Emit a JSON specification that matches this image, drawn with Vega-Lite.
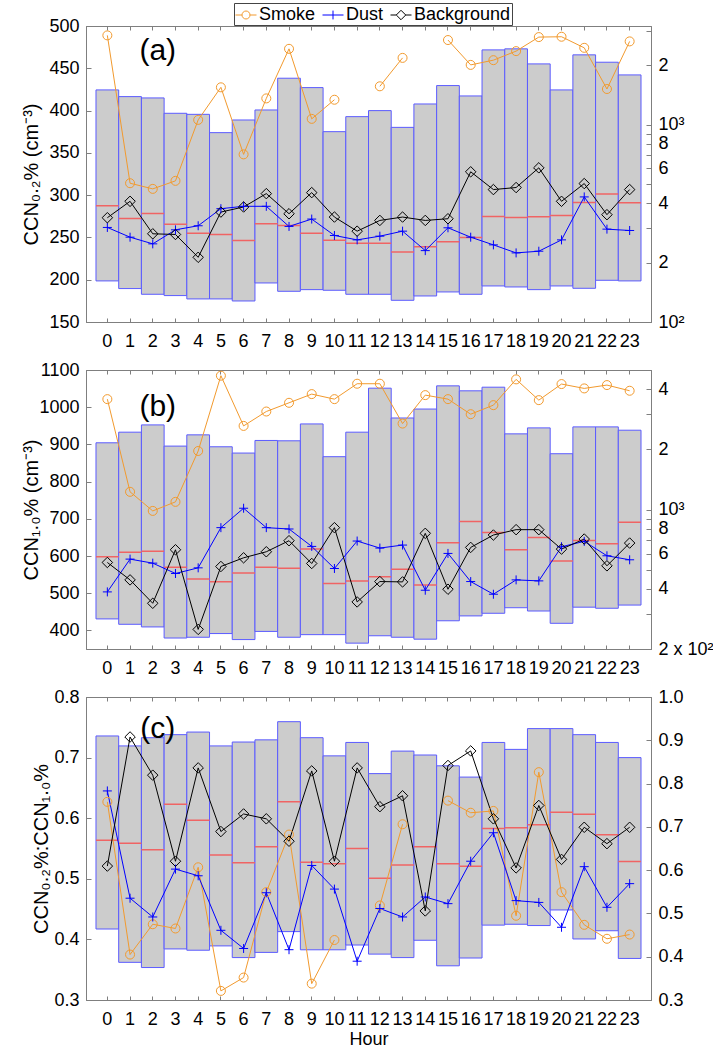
{
"$schema": "https://vega.github.io/schema/vega-lite/v6.json",
"padding": {"left": 20, "top": 2, "right": 2, "bottom": 0},
"spacing": 48,
"bounds": "flush",
"datasets": {
"a_box": [
{"hour":0,"low":161.5,"high":1500,"median":388},{"hour":1,"low":147.7,"high":1387,"median":334.5},{"hour":2,"low":138.2,"high":1366,"median":354.8},{"hour":3,"low":136.1,"high":1142,"median":313.2},{"hour":4,"low":130.9,"high":1128,"median":281.8},{"hour":5,"low":130.9,"high":911,"median":277.5},{"hour":6,"low":127.8,"high":1056,"median":258.8},{"hour":7,"low":157.7,"high":1187,"median":314.4},{"hour":8,"low":143.1,"high":1719,"median":308.3},{"hour":9,"low":145.9,"high":1541,"median":281.8},{"hour":10,"low":144.8,"high":921.5,"median":259.8},{"hour":11,"low":138.2,"high":1098,"median":250.8},{"hour":12,"low":138.2,"high":1178,"median":250.8},{"hour":13,"low":128.8,"high":969,"median":226.6},{"hour":14,"low":135.5,"high":1273,"median":240.3},{"hour":15,"low":142,"high":1578,"median":254.8},{"hour":16,"low":138.2,"high":1398,"median":268},{"hour":17,"low":152.3,"high":2393,"median":342.5},{"hour":18,"low":150.5,"high":2422,"median":338.5},{"hour":19,"low":145.9,"high":2032,"median":341.2},{"hour":20,"low":152.3,"high":1500,"median":346.6},{"hour":21,"low":148.2,"high":2258,"median":403.5},{"hour":22,"low":162.7,"high":2072,"median":444.7},{"hour":23,"low":161.5,"high":1787,"median":401.8}
],
"a_lines": [
{"hour":0,"series":"Smoke","value":488.9},{"hour":1,"series":"Smoke","value":314.1},{"hour":2,"series":"Smoke","value":307.4},{"hour":3,"series":"Smoke","value":316.9},{"hour":4,"series":"Smoke","value":389},{"hour":5,"series":"Smoke","value":427.5},{"hour":6,"series":"Smoke","value":348.2},{"hour":7,"series":"Smoke","value":414.4},{"hour":8,"series":"Smoke","value":473},{"hour":9,"series":"Smoke","value":390.2},{"hour":10,"series":"Smoke","value":412.8},{"hour":11,"series":"Smoke","value":null},{"hour":12,"series":"Smoke","value":428.7},{"hour":13,"series":"Smoke","value":462.3},{"hour":14,"series":"Smoke","value":null},{"hour":15,"series":"Smoke","value":483.4},{"hour":16,"series":"Smoke","value":454},{"hour":17,"series":"Smoke","value":459.6},{"hour":18,"series":"Smoke","value":470.3},{"hour":19,"series":"Smoke","value":486.9},{"hour":20,"series":"Smoke","value":487.3},{"hour":21,"series":"Smoke","value":474.2},{"hour":22,"series":"Smoke","value":425.5},{"hour":23,"series":"Smoke","value":481.8},
{"hour":0,"series":"Dust","value":261.8},{"hour":1,"series":"Dust","value":250.3},{"hour":2,"series":"Dust","value":242.4},{"hour":3,"series":"Dust","value":259},{"hour":4,"series":"Dust","value":263.8},{"hour":5,"series":"Dust","value":284},{"hour":6,"series":"Dust","value":286.8},{"hour":7,"series":"Dust","value":286.8},{"hour":8,"series":"Dust","value":263},{"hour":9,"series":"Dust","value":271.7},{"hour":10,"series":"Dust","value":252.3},{"hour":11,"series":"Dust","value":247.1},{"hour":12,"series":"Dust","value":251.5},{"hour":13,"series":"Dust","value":257.4},{"hour":14,"series":"Dust","value":234.4},{"hour":15,"series":"Dust","value":261.4},{"hour":16,"series":"Dust","value":250.3},{"hour":17,"series":"Dust","value":241.2},{"hour":18,"series":"Dust","value":231.7},{"hour":19,"series":"Dust","value":233.7},{"hour":20,"series":"Dust","value":247.1},{"hour":21,"series":"Dust","value":297.9},{"hour":22,"series":"Dust","value":259.8},{"hour":23,"series":"Dust","value":258.2},
{"hour":0,"series":"Background","value":273.3},{"hour":1,"series":"Background","value":292.7},{"hour":2,"series":"Background","value":254.3},{"hour":3,"series":"Background","value":253.5},{"hour":4,"series":"Background","value":226.5},{"hour":5,"series":"Background","value":280},{"hour":6,"series":"Background","value":286},{"hour":7,"series":"Background","value":301.8},{"hour":8,"series":"Background","value":278},{"hour":9,"series":"Background","value":303},{"hour":10,"series":"Background","value":274.1},{"hour":11,"series":"Background","value":257.4},{"hour":12,"series":"Background","value":270.1},{"hour":13,"series":"Background","value":274.1},{"hour":14,"series":"Background","value":270.1},{"hour":15,"series":"Background","value":272.1},{"hour":16,"series":"Background","value":327.6},{"hour":17,"series":"Background","value":306.6},{"hour":18,"series":"Background","value":309},{"hour":19,"series":"Background","value":332.3},{"hour":20,"series":"Background","value":292.7},{"hour":21,"series":"Background","value":313.7},{"hour":22,"series":"Background","value":276.9},{"hour":23,"series":"Background","value":306.6}
],
"b_box": [
{"hour":0,"low":283,"high":2159,"median":580},{"hour":1,"low":266,"high":2440,"median":610},{"hour":2,"low":258,"high":2654,"median":617},{"hour":3,"low":227,"high":2078,"median":514},{"hour":4,"low":229,"high":2366,"median":448},{"hour":5,"low":239,"high":2062,"median":434},{"hour":6,"low":223,"high":1918,"median":481},{"hour":7,"low":245,"high":2218,"median":514},{"hour":8,"low":229,"high":2209,"median":508},{"hour":9,"low":236,"high":2684,"median":634},{"hour":10,"low":236,"high":1839,"median":426},{"hour":11,"low":214,"high":2440,"median":438},{"hour":12,"low":233,"high":4054,"median":460},{"hour":13,"low":229,"high":2874,"median":502},{"hour":14,"low":224,"high":3187,"median":418},{"hour":15,"low":277,"high":4164,"median":681},{"hour":16,"low":293,"high":3932,"median":870},{"hour":17,"low":302,"high":4100,"median":767},{"hour":18,"low":322,"high":2393,"median":629},{"hour":19,"low":310,"high":2564,"median":724},{"hour":20,"low":269,"high":1903,"median":552},{"hour":21,"low":324,"high":2594,"median":700},{"hour":22,"low":320,"high":2594,"median":674},{"hour":23,"low":332,"high":2496,"median":863}
],
"b_lines": [
{"hour":0,"series":"Smoke","value":1021.7},{"hour":1,"series":"Smoke","value":772.5},{"hour":2,"series":"Smoke","value":721.2},{"hour":3,"series":"Smoke","value":745.5},{"hour":4,"series":"Smoke","value":882.3},{"hour":5,"series":"Smoke","value":1084.7},{"hour":6,"series":"Smoke","value":949.7},{"hour":7,"series":"Smoke","value":988.4},{"hour":8,"series":"Smoke","value":1011.8},{"hour":9,"series":"Smoke","value":1035.2},{"hour":10,"series":"Smoke","value":1021.7},{"hour":11,"series":"Smoke","value":1063.1},{"hour":12,"series":"Smoke","value":1063.1},{"hour":13,"series":"Smoke","value":956},{"hour":14,"series":"Smoke","value":1032.5},{"hour":15,"series":"Smoke","value":1021.7},{"hour":16,"series":"Smoke","value":981.2},{"hour":17,"series":"Smoke","value":1005.5},{"hour":18,"series":"Smoke","value":1074.8},{"hour":19,"series":"Smoke","value":1019},{"hour":20,"series":"Smoke","value":1062.2},{"hour":21,"series":"Smoke","value":1050.5},{"hour":22,"series":"Smoke","value":1059.5},{"hour":23,"series":"Smoke","value":1044.2},
{"hour":0,"series":"Dust","value":503.5},{"hour":1,"series":"Dust","value":591.6},{"hour":2,"series":"Dust","value":580.8},{"hour":3,"series":"Dust","value":553},{"hour":4,"series":"Dust","value":568.2},{"hour":5,"series":"Dust","value":676.2},{"hour":6,"series":"Dust","value":728.4},{"hour":7,"series":"Dust","value":676.2},{"hour":8,"series":"Dust","value":672.6},{"hour":9,"series":"Dust","value":625.8},{"hour":10,"series":"Dust","value":566.4},{"hour":11,"series":"Dust","value":640.2},{"hour":12,"series":"Dust","value":621.3},{"hour":13,"series":"Dust","value":629.4},{"hour":14,"series":"Dust","value":508},{"hour":15,"series":"Dust","value":606.9},{"hour":16,"series":"Dust","value":531.3},{"hour":17,"series":"Dust","value":497.2},{"hour":18,"series":"Dust","value":535.8},{"hour":19,"series":"Dust","value":533.1},{"hour":20,"series":"Dust","value":624.9},{"hour":21,"series":"Dust","value":639.3},{"hour":22,"series":"Dust","value":600.6},{"hour":23,"series":"Dust","value":589.8},
{"hour":0,"series":"Background","value":582.6},{"hour":1,"series":"Background","value":535.8},{"hour":2,"series":"Background","value":472.9},{"hour":3,"series":"Background","value":616.8},{"hour":4,"series":"Background","value":402.7},{"hour":5,"series":"Background","value":571.8},{"hour":6,"series":"Background","value":595.2},{"hour":7,"series":"Background","value":611.4},{"hour":8,"series":"Background","value":641.1},{"hour":9,"series":"Background","value":579.9},{"hour":10,"series":"Background","value":676.2},{"hour":11,"series":"Background","value":476.5},{"hour":12,"series":"Background","value":531.3},{"hour":13,"series":"Background","value":530.4},{"hour":14,"series":"Background","value":660.9},{"hour":15,"series":"Background","value":510.7},{"hour":16,"series":"Background","value":623.1},{"hour":17,"series":"Background","value":656.4},{"hour":18,"series":"Background","value":670.8},{"hour":19,"series":"Background","value":670.8},{"hour":20,"series":"Background","value":618.6},{"hour":21,"series":"Background","value":645.6},{"hour":22,"series":"Background","value":573.6},{"hour":23,"series":"Background","value":634.8}
],
"c_box": [
{"hour":0,"low":0.464,"high":0.910,"median":0.669},{"hour":1,"low":0.387,"high":0.887,"median":0.662},{"hour":2,"low":0.375,"high":0.906,"median":0.647},{"hour":3,"low":0.418,"high":0.913,"median":0.752},{"hour":4,"low":0.415,"high":0.919,"median":0.715},{"hour":5,"low":0.425,"high":0.887,"median":0.635},{"hour":6,"low":0.398,"high":0.896,"median":0.617},{"hour":7,"low":0.410,"high":0.901,"median":0.654},{"hour":8,"low":0.458,"high":0.943,"median":0.758},{"hour":9,"low":0.416,"high":0.906,"median":0.618},{"hour":10,"low":0.416,"high":0.864,"median":0.615},{"hour":11,"low":0.427,"high":0.895,"median":0.650},{"hour":12,"low":0.406,"high":0.823,"median":0.581},{"hour":13,"low":0.398,"high":0.875,"median":0.612},{"hour":14,"low":0.438,"high":0.866,"median":0.654},{"hour":15,"low":0.379,"high":0.841,"median":0.615},{"hour":16,"low":0.397,"high":0.815,"median":0.609},{"hour":17,"low":0.473,"high":0.895,"median":0.696},{"hour":18,"low":0.475,"high":0.879,"median":0.698},{"hour":19,"low":0.472,"high":0.927,"median":0.705},{"hour":20,"low":0.508,"high":0.927,"median":0.734},{"hour":21,"low":0.441,"high":0.913,"median":0.729},{"hour":22,"low":0.460,"high":0.895,"median":0.682},{"hour":23,"low":0.396,"high":0.860,"median":0.620}
],
"c_lines": [
{"hour":0,"series":"Smoke","value":0.627},{"hour":1,"series":"Smoke","value":0.375},{"hour":2,"series":"Smoke","value":0.425},{"hour":3,"series":"Smoke","value":0.418},{"hour":4,"series":"Smoke","value":0.519},{"hour":5,"series":"Smoke","value":0.315},{"hour":6,"series":"Smoke","value":0.337},{"hour":7,"series":"Smoke","value":0.478},{"hour":8,"series":"Smoke","value":0.573},{"hour":9,"series":"Smoke","value":0.327},{"hour":10,"series":"Smoke","value":0.399},{"hour":11,"series":"Smoke","value":null},{"hour":12,"series":"Smoke","value":0.456},{"hour":13,"series":"Smoke","value":0.590},{"hour":14,"series":"Smoke","value":null},{"hour":15,"series":"Smoke","value":0.629},{"hour":16,"series":"Smoke","value":0.609},{"hour":17,"series":"Smoke","value":0.612},{"hour":18,"series":"Smoke","value":0.439},{"hour":19,"series":"Smoke","value":0.676},{"hour":20,"series":"Smoke","value":0.478},{"hour":21,"series":"Smoke","value":0.424},{"hour":22,"series":"Smoke","value":0.401},{"hour":23,"series":"Smoke","value":0.408},
{"hour":0,"series":"Dust","value":0.645},{"hour":1,"series":"Dust","value":0.468},{"hour":2,"series":"Dust","value":0.437},{"hour":3,"series":"Dust","value":0.516},{"hour":4,"series":"Dust","value":0.505},{"hour":5,"series":"Dust","value":0.415},{"hour":6,"series":"Dust","value":0.385},{"hour":7,"series":"Dust","value":0.477},{"hour":8,"series":"Dust","value":0.383},{"hour":9,"series":"Dust","value":0.522},{"hour":10,"series":"Dust","value":0.483},{"hour":11,"series":"Dust","value":0.364},{"hour":12,"series":"Dust","value":0.451},{"hour":13,"series":"Dust","value":0.437},{"hour":14,"series":"Dust","value":0.470},{"hour":15,"series":"Dust","value":0.459},{"hour":16,"series":"Dust","value":0.529},{"hour":17,"series":"Dust","value":0.576},{"hour":18,"series":"Dust","value":0.464},{"hour":19,"series":"Dust","value":0.461},{"hour":20,"series":"Dust","value":0.420},{"hour":21,"series":"Dust","value":0.520},{"hour":22,"series":"Dust","value":0.453},{"hour":23,"series":"Dust","value":0.492},
{"hour":0,"series":"Background","value":0.521},{"hour":1,"series":"Background","value":0.734},{"hour":2,"series":"Background","value":0.671},{"hour":3,"series":"Background","value":0.529},{"hour":4,"series":"Background","value":0.683},{"hour":5,"series":"Background","value":0.578},{"hour":6,"series":"Background","value":0.607},{"hour":7,"series":"Background","value":0.599},{"hour":8,"series":"Background","value":0.562},{"hour":9,"series":"Background","value":0.678},{"hour":10,"series":"Background","value":0.529},{"hour":11,"series":"Background","value":0.683},{"hour":12,"series":"Background","value":0.619},{"hour":13,"series":"Background","value":0.637},{"hour":14,"series":"Background","value":0.447},{"hour":15,"series":"Background","value":0.687},{"hour":16,"series":"Background","value":0.711},{"hour":17,"series":"Background","value":0.599},{"hour":18,"series":"Background","value":0.518},{"hour":19,"series":"Background","value":0.621},{"hour":20,"series":"Background","value":0.532},{"hour":21,"series":"Background","value":0.585},{"hour":22,"series":"Background","value":0.558},{"hour":23,"series":"Background","value":0.585}
],
"legend_rows": [
{"series":"Smoke","value":null},{"series":"Dust","value":null},{"series":"Background","value":null}
]
},
"vconcat": [
{
"width": 565, "height": 296,
"resolve": {"scale": {"y": "independent"}, "axis": {"y": "independent", "x": "independent"}},
"layer": [
{
"data": {"name": "a_box"},
"encoding": {"x": {"field": "hour", "type": "ordinal", "scale": {"type": "band", "domain": [0,1,2,3,4,5,6,7,8,9,10,11,12,13,14,15,16,17,18,19,20,21,22,23], "paddingInner": 0, "paddingOuter": 0.44}, "axis": {"orient": "top", "labels": false, "title": null, "tickSize": -4}}},
"layer": [
{"mark": {"type": "bar", "fill": "#cccccc", "stroke": "#5b5bff", "strokeWidth": 1},
 "encoding": {"y": {"field": "low", "type": "quantitative", "scale": {"type": "log", "domain": [100, 3162], "nice": false}, "axis": {"orient": "right", "title": null, "tickSize": -5, "labelPadding": 12, "values": [100,200,300,400,500,600,700,800,900,1000,2000,3000], "labelExpr": "datum.value == 100 ? '10²' : datum.value == 1000 ? '10³' : datum.value == 2000 ? '2' : (datum.value == 200 || datum.value == 400 || datum.value == 600 || datum.value == 800) ? '' + (datum.value / 100) : ''"}}, "y2": {"field": "high"}}},
{"mark": {"type": "bar", "filled": false, "color": "#f06464", "strokeWidth": 1.5},
 "encoding": {"y": {"field": "median", "type": "quantitative", "axis": {"orient": "right", "title": null, "tickSize": -5, "labelPadding": 12, "values": [100,200,300,400,500,600,700,800,900,1000,2000,3000], "labelExpr": "datum.value == 100 ? '10²' : datum.value == 1000 ? '10³' : datum.value == 2000 ? '2' : (datum.value == 200 || datum.value == 400 || datum.value == 600 || datum.value == 800) ? '' + (datum.value / 100) : ''"}}, "y2": {"field": "median"}}}
]
},
{
"data": {"name": "a_lines"},
"encoding": {
 "x": {"field": "hour", "type": "ordinal", "scale": {"type": "band", "domain": [0,1,2,3,4,5,6,7,8,9,10,11,12,13,14,15,16,17,18,19,20,21,22,23], "paddingInner": 0, "paddingOuter": 0.44}, "axis": {"orient": "bottom", "title": null, "labelAngle": 0, "tickSize": -4, "labelPadding": 14}},
 "y": {"field": "value", "type": "quantitative", "scale": {"domain": [150, 500], "nice": false, "zero": false}, "axis": {"orient": "left", "title": "CCN₀.₂% (cm⁻³)", "values": [150,200,250,300,350,400,450,500], "format": "d", "tickSize": -5, "labelPadding": 12, "titleX": -55, "titleBaseline": "middle"}}
},
"layer": [
{"transform": [{"filter": "datum.series == 'Smoke'"}], "mark": {"type": "line", "color": "#f29a2e", "strokeWidth": 1, "invalid": "break-paths-show-domains"}},
{"transform": [{"filter": "datum.series == 'Dust'"}], "mark": {"type": "line", "color": "#0000ff", "strokeWidth": 1}},
{"transform": [{"filter": "datum.series == 'Background'"}], "mark": {"type": "line", "color": "#000000", "strokeWidth": 1}},
{"transform": [{"filter": "datum.series == 'Smoke'"}], "mark": {"type": "point", "shape": "circle", "size": 81, "filled": false, "color": "#f29a2e", "strokeWidth": 1, "opacity": 1}},
{"transform": [{"filter": "datum.series == 'Dust'"}], "mark": {"type": "point", "shape": "M-1,0H1M0,-1V1", "size": 81, "filled": false, "color": "#0000ff", "strokeWidth": 1, "opacity": 1}},
{"transform": [{"filter": "datum.series == 'Background'"}], "mark": {"type": "point", "shape": "M0,-1L1,0L0,1L-1,0Z", "size": 110, "filled": false, "color": "#000000", "strokeWidth": 1, "opacity": 1}},
{"data": {"values": [{"hour": 2, "value": 470, "label": "(a)"}]}, "mark": {"type": "text", "fontSize": 30, "dx": 5, "baseline": "middle", "align": "center", "color": "#000"}, "encoding": {"text": {"field": "label"}}},
{"data": {"name": "legend_rows"}, "mark": {"type": "point", "filled": false, "strokeWidth": 1},
 "encoding": {
  "x": {"value": 0},
  "color": {"field": "series", "type": "nominal", "scale": {"domain": ["Smoke", "Dust", "Background"], "range": ["#f29a2e", "#0000ff", "#000000"]}, "legend": {"orient": "none", "legendX": 148, "legendY": -23, "direction": "horizontal", "title": null}},
  "shape": {"field": "series", "type": "nominal", "scale": {"domain": ["Smoke", "Dust", "Background"], "range": ["M-1,0H-0.38M0.38,0H1M0.38,0A0.38,0.38,0,1,1,-0.38,0A0.38,0.38,0,1,1,0.38,0", "M-1,0H1M0,-0.42V0.42", "M-1,0H-0.45M0.45,0H1M0,-0.45L0.45,0L0,0.45L-0.45,0Z"]}, "legend": {"orient": "none", "legendX": 148, "legendY": -23, "direction": "horizontal", "title": null}}
 }}
]
}
]
},
{
"width": 565, "height": 279,
"resolve": {"scale": {"y": "independent"}, "axis": {"y": "independent", "x": "independent"}},
"layer": [
{
"data": {"name": "b_box"},
"encoding": {"x": {"field": "hour", "type": "ordinal", "scale": {"type": "band", "domain": [0,1,2,3,4,5,6,7,8,9,10,11,12,13,14,15,16,17,18,19,20,21,22,23], "paddingInner": 0, "paddingOuter": 0.44}, "axis": {"orient": "top", "labels": false, "title": null, "tickSize": -4}}},
"layer": [
{"mark": {"type": "bar", "fill": "#cccccc", "stroke": "#5b5bff", "strokeWidth": 1},
 "encoding": {"y": {"field": "low", "type": "quantitative", "scale": {"type": "log", "domain": [200, 5000], "nice": false}, "axis": {"orient": "right", "title": null, "tickSize": -5, "labelPadding": 12, "values": [200,300,400,500,600,700,800,900,1000,2000,3000,4000,5000], "labelExpr": "datum.value == 200 ? '2 x 10²' : datum.value == 1000 ? '10³' : (datum.value == 2000 || datum.value == 4000) ? '' + (datum.value / 1000) : (datum.value == 400 || datum.value == 600 || datum.value == 800) ? '' + (datum.value / 100) : ''"}}, "y2": {"field": "high"}}},
{"mark": {"type": "bar", "filled": false, "color": "#f06464", "strokeWidth": 1.5},
 "encoding": {"y": {"field": "median", "type": "quantitative", "axis": {"orient": "right", "title": null, "tickSize": -5, "labelPadding": 12, "values": [200,300,400,500,600,700,800,900,1000,2000,3000,4000,5000], "labelExpr": "datum.value == 200 ? '2 x 10²' : datum.value == 1000 ? '10³' : (datum.value == 2000 || datum.value == 4000) ? '' + (datum.value / 1000) : (datum.value == 400 || datum.value == 600 || datum.value == 800) ? '' + (datum.value / 100) : ''"}}, "y2": {"field": "median"}}}
]
},
{
"data": {"name": "b_lines"},
"encoding": {
 "x": {"field": "hour", "type": "ordinal", "scale": {"type": "band", "domain": [0,1,2,3,4,5,6,7,8,9,10,11,12,13,14,15,16,17,18,19,20,21,22,23], "paddingInner": 0, "paddingOuter": 0.44}, "axis": {"orient": "bottom", "title": null, "labelAngle": 0, "tickSize": -4, "labelPadding": 14}},
 "y": {"field": "value", "type": "quantitative", "scale": {"domain": [350, 1100], "nice": false, "zero": false}, "axis": {"orient": "left", "title": "CCN₁.₀% (cm⁻³)", "values": [400,500,600,700,800,900,1000,1100], "format": "d", "tickSize": -5, "labelPadding": 12, "titleX": -55, "titleBaseline": "middle"}}
},
"layer": [
{"transform": [{"filter": "datum.series == 'Smoke'"}], "mark": {"type": "line", "color": "#f29a2e", "strokeWidth": 1}},
{"transform": [{"filter": "datum.series == 'Dust'"}], "mark": {"type": "line", "color": "#0000ff", "strokeWidth": 1}},
{"transform": [{"filter": "datum.series == 'Background'"}], "mark": {"type": "line", "color": "#000000", "strokeWidth": 1}},
{"transform": [{"filter": "datum.series == 'Smoke'"}], "mark": {"type": "point", "shape": "circle", "size": 81, "filled": false, "color": "#f29a2e", "strokeWidth": 1, "opacity": 1}},
{"transform": [{"filter": "datum.series == 'Dust'"}], "mark": {"type": "point", "shape": "M-1,0H1M0,-1V1", "size": 81, "filled": false, "color": "#0000ff", "strokeWidth": 1, "opacity": 1}},
{"transform": [{"filter": "datum.series == 'Background'"}], "mark": {"type": "point", "shape": "M0,-1L1,0L0,1L-1,0Z", "size": 110, "filled": false, "color": "#000000", "strokeWidth": 1, "opacity": 1}},
{"data": {"values": [{"hour": 2, "value": 1000, "label": "(b)"}]}, "mark": {"type": "text", "fontSize": 30, "dx": 5, "baseline": "middle", "align": "center", "color": "#000"}, "encoding": {"text": {"field": "label"}}}
]
}
]
},
{
"width": 565, "height": 303,
"resolve": {"scale": {"y": "independent"}, "axis": {"y": "independent", "x": "independent"}},
"layer": [
{
"data": {"name": "c_box"},
"encoding": {"x": {"field": "hour", "type": "ordinal", "scale": {"type": "band", "domain": [0,1,2,3,4,5,6,7,8,9,10,11,12,13,14,15,16,17,18,19,20,21,22,23], "paddingInner": 0, "paddingOuter": 0.44}, "axis": {"orient": "top", "labels": false, "title": null, "tickSize": -4}}},
"layer": [
{"mark": {"type": "bar", "fill": "#cccccc", "stroke": "#5b5bff", "strokeWidth": 1},
 "encoding": {"y": {"field": "low", "type": "quantitative", "scale": {"domain": [0.3, 1.0], "nice": false, "zero": false}, "axis": {"orient": "right", "title": null, "tickSize": -5, "labelPadding": 12, "values": [0.3,0.4,0.5,0.6,0.7,0.8,0.9,1.0], "format": ".1f"}}, "y2": {"field": "high"}}},
{"mark": {"type": "bar", "filled": false, "color": "#f06464", "strokeWidth": 1.5},
 "encoding": {"y": {"field": "median", "type": "quantitative", "axis": {"orient": "right", "title": null, "tickSize": -5, "labelPadding": 12, "values": [0.3,0.4,0.5,0.6,0.7,0.8,0.9,1.0], "format": ".1f"}}, "y2": {"field": "median"}}}
]
},
{
"data": {"name": "c_lines"},
"encoding": {
 "x": {"field": "hour", "type": "ordinal", "scale": {"type": "band", "domain": [0,1,2,3,4,5,6,7,8,9,10,11,12,13,14,15,16,17,18,19,20,21,22,23], "paddingInner": 0, "paddingOuter": 0.44}, "axis": {"orient": "bottom", "title": "Hour", "titleFontSize": 18, "titlePadding": 2, "labelAngle": 0, "tickSize": -4, "labelPadding": 14}},
 "y": {"field": "value", "type": "quantitative", "scale": {"domain": [0.3, 0.8], "nice": false, "zero": false}, "axis": {"orient": "left", "title": "CCN₀.₂%:CCN₁.₀%", "values": [0.3,0.4,0.5,0.6,0.7,0.8], "format": ".1f", "tickSize": -5, "labelPadding": 12, "titleX": -45, "titleBaseline": "middle"}}
},
"layer": [
{"transform": [{"filter": "datum.series == 'Smoke'"}], "mark": {"type": "line", "color": "#f29a2e", "strokeWidth": 1, "invalid": "break-paths-show-domains"}},
{"transform": [{"filter": "datum.series == 'Dust'"}], "mark": {"type": "line", "color": "#0000ff", "strokeWidth": 1}},
{"transform": [{"filter": "datum.series == 'Background'"}], "mark": {"type": "line", "color": "#000000", "strokeWidth": 1}},
{"transform": [{"filter": "datum.series == 'Smoke'"}], "mark": {"type": "point", "shape": "circle", "size": 81, "filled": false, "color": "#f29a2e", "strokeWidth": 1, "opacity": 1}},
{"transform": [{"filter": "datum.series == 'Dust'"}], "mark": {"type": "point", "shape": "M-1,0H1M0,-1V1", "size": 81, "filled": false, "color": "#0000ff", "strokeWidth": 1, "opacity": 1}},
{"transform": [{"filter": "datum.series == 'Background'"}], "mark": {"type": "point", "shape": "M0,-1L1,0L0,1L-1,0Z", "size": 110, "filled": false, "color": "#000000", "strokeWidth": 1, "opacity": 1}},
{"data": {"values": [{"hour": 2, "value": 0.748, "label": "(c)"}]}, "mark": {"type": "text", "fontSize": 30, "dx": 5, "baseline": "middle", "align": "center", "color": "#000"}, "encoding": {"text": {"field": "label"}}}
]
}
]
}
],
"config": {
 "font": "Liberation Sans",
 "view": {"stroke": "#7f7f7f", "strokeWidth": 1},
 "axis": {"grid": false, "labelFont": "Liberation Sans", "labelFontSize": 18, "labelColor": "#000000", "titleFont": "Liberation Sans", "titleFontSize": 20, "titleFontWeight": "normal", "titleColor": "#000000", "domainColor": "#7f7f7f", "tickColor": "#7f7f7f", "labelOverlap": false, "labelFlush": false, "labelBound": false},
 "legend": {"labelFont": "Liberation Sans", "labelFontSize": 18, "labelColor": "#000000", "symbolSize": 441, "symbolStrokeWidth": 1, "symbolOpacity": 1, "labelOffset": 2, "columnPadding": 4, "padding": 1, "strokeColor": "#444444", "fillColor": "#ffffff", "rowPadding": 0}
}
}
